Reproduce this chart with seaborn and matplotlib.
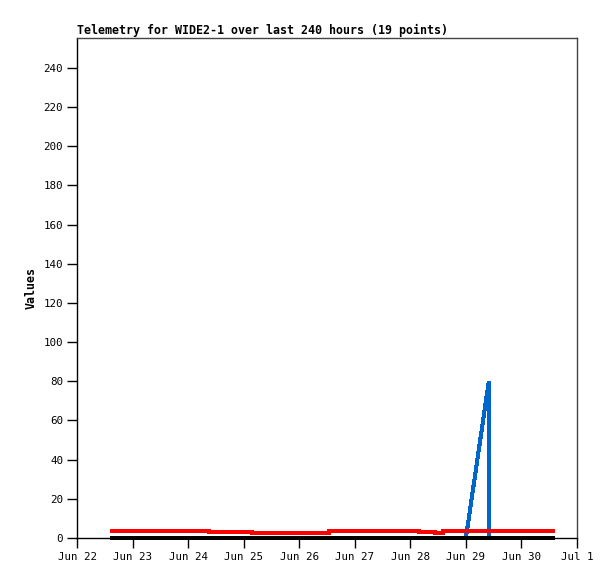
import pandas as pd
import numpy as np
import matplotlib
matplotlib.use("Agg")
import matplotlib.pyplot as plt
import matplotlib.dates as mdates
from matplotlib.ticker import FuncFormatter
import seaborn as sns

# hours after Jun 22 00:00 for the 19 telemetry points
hours = [14.3, 26.0, 40.0, 57.0, 75.5, 92.0, 108.7, 125.0, 136.0, 147.9,
         154.7, 158.2, 168.0, 177.9, 178.0, 186.0, 194.0, 200.0, 206.4]
red_vals = [3.7, 3.7, 3.7, 3.2, 2.7, 2.7, 3.7, 3.7, 3.7, 3.2,
            2.7, 3.7, 3.7, 3.7, 3.7, 3.7, 3.7, 3.7, 3.7]
blue_vals = [0, 0, 0, 0, 0, 0, 0, 0, 0, 0,
             0, 0, 0, 80, 0, 0, 0, 0, 0]
black_vals = [0] * 19

start = pd.Timestamp("2023-06-22")
end = pd.Timestamp("2023-07-01")
df = pd.DataFrame({
    "time": start + pd.to_timedelta(hours, unit="h"),
    "red": red_vals,
    "blue": blue_vals,
    "black": black_vals,
})

sns.set_style("ticks")
plt.rcParams['font.family'] = ['DejaVu Sans Mono']
plt.rcParams['text.color'] = 'black'
plt.rcParams['axes.labelcolor'] = 'black'

fig = plt.figure(figsize=(6.15, 5.79), dpi=100)
ax = fig.add_axes([77 / 615, 41 / 579, 500 / 615, 500 / 579])

# 3 px wide lines, no smoothing, like the original bitmap chart
line_kw = dict(linewidth=2.16, ax=ax, clip_on=False, antialiased=False, snap=False,
               solid_capstyle="butt", solid_joinstyle="miter")
sns.lineplot(data=df, x="time", y="blue", color="#0066CC", **line_kw)
sns.lineplot(data=df, x="time", y="red", color="#FF0000", drawstyle="steps-post", **line_kw)
sns.lineplot(data=df, x="time", y="black", color="#000000", **line_kw)

ax.set_xlim(start, end)
ax.set_ylim(0, 255.3)
ax.set_yticks(range(0, 241, 20))
ax.xaxis.set_major_locator(mdates.DayLocator())

def day_fmt(x, pos):
    d = mdates.num2date(x)
    return f"{d:%b} {d.day}"

ax.xaxis.set_major_formatter(FuncFormatter(day_fmt))

ax.tick_params(axis="both", direction="out", length=7, width=1, colors="black",
               labelcolor="black", labelsize=7.8, pad=3)
ax.set_xlabel("")
ax.set_ylabel("Values", fontsize=8.4, fontweight="bold", labelpad=4)

for s in ["left", "bottom"]:
    ax.spines[s].set_color("black")
    ax.spines[s].set_linewidth(1)
for s in ["top", "right"]:
    ax.spines[s].set_color("#444444")
    ax.spines[s].set_linewidth(1)
    ax.spines[s].set_visible(True)

ax.set_title("Telemetry for WIDE2-1 over last 240 hours (19 points)",
             loc="left", fontsize=8.4, fontweight="bold", color="black", pad=3)

fig.savefig("out.png", dpi=100)
